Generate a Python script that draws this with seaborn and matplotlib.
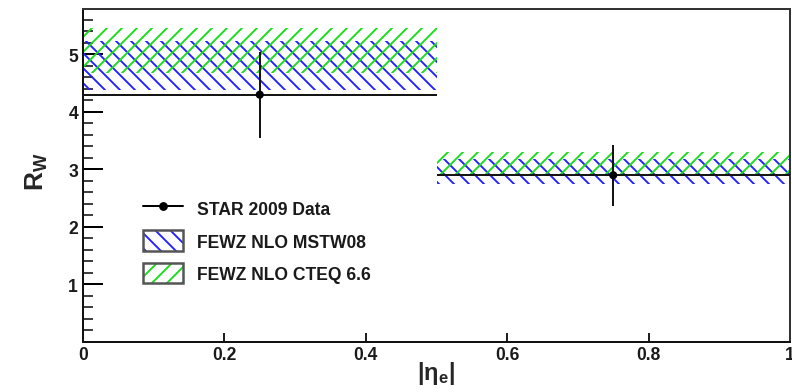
import matplotlib
matplotlib.use("Agg")
import matplotlib.pyplot as plt
import seaborn as sns
import numpy as np
import pandas as pd
from matplotlib.patches import Patch
from matplotlib.lines import Line2D
from matplotlib.legend_handler import HandlerTuple
from matplotlib.ticker import MultipleLocator, FixedLocator

# |eta_e| bins
bin_lo = [0.0, 0.5]
bin_hi = [0.5, 1.0]
eta_center = [0.25, 0.75]
eta_halfwidth = [0.25, 0.25]

# STAR 2009 measurement of R_W
rw_data = [4.30, 2.90]
rw_err = [0.75, 0.53]

# FEWZ NLO predictions (band edges)
mstw_lo = [4.38, 2.75]
mstw_hi = [5.23, 3.18]
cteq_lo = [4.68, 2.89]
cteq_hi = [5.46, 3.30]

xtick_vals = [0, 0.2, 0.4, 0.6, 0.8, 1.0]
xtick_labels = ["0", "0.2", "0.4", "0.6", "0.8", "1"]
ytick_vals = [1, 2, 3, 4, 5]
ytick_labels = ["1", "2", "3", "4", "5"]

legend_labels = ["STAR 2009 Data", "FEWZ NLO MSTW08", "FEWZ NLO CTEQ 6.6"]

sns.set_theme(style="white")
plt.rcParams["font.family"] = ["Liberation Sans", "DejaVu Sans"]
plt.rcParams["font.weight"] = "bold"
plt.rcParams["hatch.linewidth"] = 1.5
plt.rcParams["mathtext.fontset"] = "custom"
plt.rcParams["mathtext.rm"] = "Liberation Sans"
plt.rcParams["mathtext.bf"] = "Liberation Sans:bold"
plt.rcParams["mathtext.it"] = "Liberation Sans:italic"

W, H, DPI = 792, 393, 90
fig = plt.figure(figsize=(W / DPI, H / DPI), dpi=DPI)
ax = fig.add_axes([83 / W, 50 / H, 707 / W, 333 / H])

blue = "#2020ff"
green = "#18dd18"
hatch_blue = "\\\\"
hatch_green = "//"

widths = np.array(bin_hi) - np.array(bin_lo)

# theory bands as hatched boxes spanning each bin
ax.bar(eta_center, np.array(mstw_hi) - np.array(mstw_lo), bottom=mstw_lo,
       width=widths, facecolor="none", edgecolor=blue, hatch=hatch_blue,
       linewidth=0, zorder=2)
ax.bar(eta_center, np.array(cteq_hi) - np.array(cteq_lo), bottom=cteq_lo,
       width=widths, facecolor="none", edgecolor=green, hatch=hatch_green,
       linewidth=0, zorder=2)

# data: bin-width horizontal bars and statistical error bars
ax.errorbar(eta_center, rw_data, xerr=eta_halfwidth, yerr=rw_err, fmt="none",
            ecolor="#151515", elinewidth=1.6, capsize=0, zorder=3)
df = pd.DataFrame({"eta": eta_center, "rw": rw_data})
sns.scatterplot(data=df, x="eta", y="rw", color="black", s=42,
                edgecolor="none", ax=ax, zorder=4)

ax.set_xlim(0, 1)
ax.set_ylim(0, 5.79)

ax.xaxis.set_major_locator(FixedLocator(xtick_vals))
ax.set_xticklabels(xtick_labels)
ax.yaxis.set_major_locator(FixedLocator(ytick_vals))
ax.set_yticklabels(ytick_labels)
ax.yaxis.set_minor_locator(MultipleLocator(0.2))

ax.tick_params(axis="both", labelsize=14, colors="black", labelcolor="#1a1a1a")
ax.tick_params(axis="y", which="major", direction="in", length=16, width=1.6,
               left=True, right=False, pad=4)
ax.tick_params(axis="y", which="minor", direction="in", length=8, width=1.4,
               left=True, right=False)
ax.tick_params(axis="x", which="major", direction="in", length=7, width=1.4,
               bottom=True, top=False, pad=3)
for lab in ax.get_xticklabels() + ax.get_yticklabels():
    lab.set_fontweight("bold")

for side in ["left", "bottom", "right", "top"]:
    ax.spines[side].set_visible(True)
    ax.spines[side].set_color("#111111")
    ax.spines[side].set_linewidth(1.6)
ax.spines["top"].set_color("#333333")
ax.spines["right"].set_color("#333333")

ax.set_xlabel(r"$\mathbf{|η_{e}|}$", fontsize=19)
ax.set_ylabel(r"$\mathbf{R_{W}}$", fontsize=21)
ax.xaxis.set_label_coords(0.5, -0.05)
ax.yaxis.set_label_coords(-0.047, 0.515)
ax.xaxis.label.set_verticalalignment("top")

# legend with framed hatch swatches
frame = dict(facecolor="none", edgecolor="#555555", linewidth=2)
handles = [
    Line2D([], [], color="black", lw=1.6, marker="o", ms=6),
    (Patch(facecolor="none", edgecolor=blue, hatch=hatch_blue, linewidth=0), Patch(**frame)),
    (Patch(facecolor="none", edgecolor=green, hatch=hatch_green, linewidth=0), Patch(**frame)),
]
leg = ax.legend(handles, legend_labels, handler_map={tuple: HandlerTuple(ndivide=1)},
                loc="upper left", bbox_to_anchor=(143 / W, 1 - 199 / H),
                bbox_transform=fig.transFigure, frameon=False, borderpad=0,
                borderaxespad=0, handlelength=2.3, handleheight=1.45,
                handletextpad=0.8, labelspacing=0.66,
                prop={"weight": "bold", "size": 14})
for t in leg.get_texts():
    t.set_color("#1a1a1a")

fig.savefig("out.png", dpi=DPI)
